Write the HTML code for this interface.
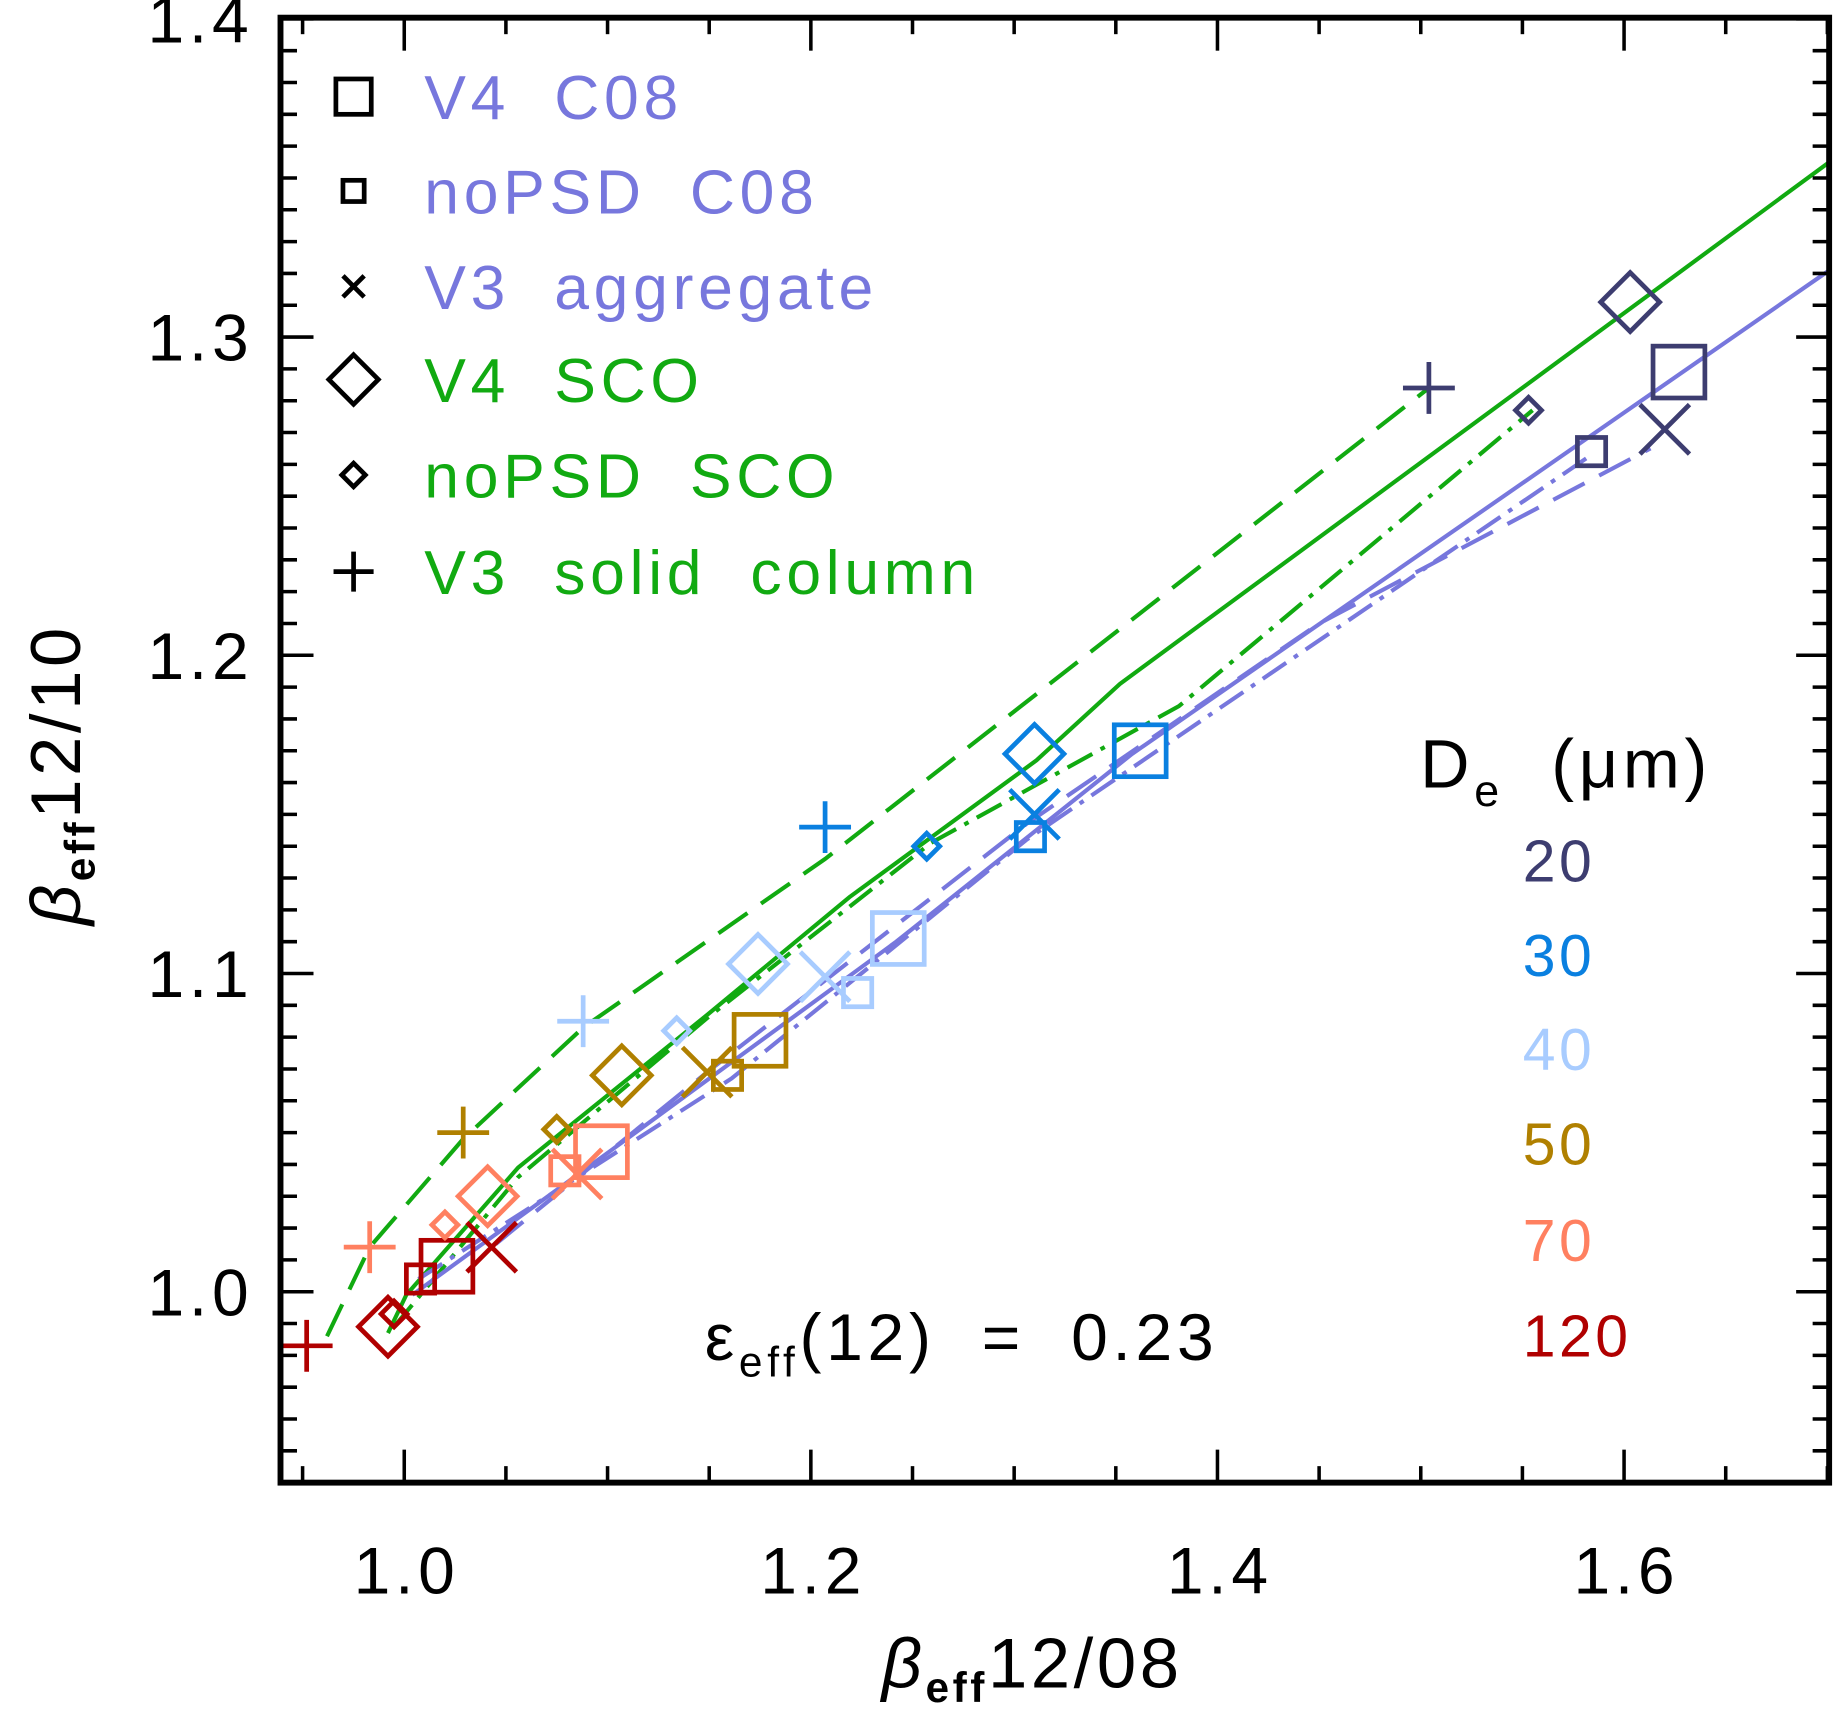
<!DOCTYPE html>
<html><head><meta charset="utf-8"><style>
html,body{margin:0;padding:0;background:#fff;}
svg{display:block;font-family:"Liberation Sans","DejaVu Sans",sans-serif;}
</style></head><body>
<svg id="chart" width="1848" height="1720" viewBox="0 0 1568 1459.4" xmlns="http://www.w3.org/2000/svg">
<g id="lines"></g><g id="marks"></g><g id="axes"></g><g id="legend"></g>
</svg>
<script>
const sizeLabels = ["20","30","40","50","70","120"];
const sizeColors = ["#3d3d70","#0a80e0","#a8ccff","#b08000","#ff8060","#b00000"];
const v4c08X = [1.627,1.362,1.243,1.175,1.097,1.021];
const v4c08Y = [1.289,1.170,1.111,1.079,1.044,1.008];
const nopsdc08X = [1.584,1.308,1.223,1.159,1.079,1.008];
const nopsdc08Y = [1.264,1.143,1.094,1.068,1.038,1.004];
const v3aggX = [1.620,1.310,1.207,1.149,1.085,1.043];
const v3aggY = [1.271,1.150,1.099,1.069,1.037,1.014];
const v4scoX = [1.603,1.310,1.174,1.107,1.041,0.992];
const v4scoY = [1.311,1.169,1.103,1.068,1.030,0.989];
const nopsdscoX = [1.553,1.257,1.134,1.075,1.020,0.995];
const nopsdscoY = [1.277,1.140,1.082,1.051,1.021,0.993];
const v3colX = [1.504,1.207,1.088,1.029,0.983,0.952];
const v3colY = [1.284,1.146,1.085,1.050,1.014,0.983];
const greenDashX = [0.962,0.983,1.029,1.088,1.207,1.504];
const greenDashY = [0.986,1.014,1.048,1.083,1.136,1.284];
const greenSolidX = [0.992,1.001,1.056,1.149,1.219,1.311,1.352,1.701];
const greenSolidY = [0.987,0.999,1.039,1.087,1.124,1.167,1.191,1.355];
const greenDotX = [0.995,1.056,1.149,1.259,1.381,1.555];
const greenDotY = [0.989,1.036,1.086,1.141,1.184,1.277];
const purpSolidX = [1.004,1.103,1.242,1.358,1.701];
const purpSolidY = [0.999,1.045,1.110,1.169,1.321];
const purpDashX = [1.045,1.149,1.306,1.450,1.613];
const purpDashY = [1.015,1.069,1.147,1.210,1.265];
const purpDotX = [1.007,1.161,1.306,1.584];
const purpDotY = [1.004,1.067,1.142,1.263];
const xTicks = [1.0,1.2,1.4,1.6];
const xTickLabels = ["1.0","1.2","1.4","1.6"];
const yTicks = [1.0,1.1,1.2,1.3,1.4];
const yTickLabels = ["1.0","1.1","1.2","1.3","1.4"];

const L=238,R=1552,T=15,B=1258;
const sx = v => 343 + (v-1.0)*1725;
const sy = v => 1096 - (v-1.0)*2700;
const NS="http://www.w3.org/2000/svg";
function mk(tag, attrs, parent){const e=document.createElementNS(NS,tag);for(const k in attrs)e.setAttribute(k,attrs[k]);parent.appendChild(e);return e;}
const gl=document.getElementById('lines'), gm=document.getElementById('marks'), ga=document.getElementById('axes'), gg=document.getElementById('legend');
const GREEN="#11aa11", PURP="#7777dd";

function line(xs,ys,col,dash,name){
  const p=mk('polyline',{points:xs.map((x,i)=>sx(x)+','+sy(ys[i])).join(' '),fill:'none',stroke:col,'stroke-width':3.5,'stroke-dasharray':dash},gl);
  
  
}
line(greenDashX,greenDashY,GREEN,"30 14","green-dashed-line");
line(greenSolidX,greenSolidY,GREEN,"none","green-solid-line");
line(greenDotX,greenDotY,GREEN,"24 8 4 8","green-dashdot-line");
line(purpSolidX,purpSolidY,PURP,"none","purple-solid-line");
line(purpDashX,purpDashY,PURP,"30 14","purple-dashed-line");
line(purpDotX,purpDotY,PURP,"24 8 4 8","purple-dashdot-line");

function marker(type,cx,cy,col,parent,sz){
  let e;
  if(type==='sq'){e=mk('rect',{x:cx-sz/2,y:cy-sz/2,width:sz,height:sz,fill:'none',stroke:col,'stroke-width':4},parent);}
  else if(type==='di'){e=mk('polygon',{points:`${cx},${cy-sz/2} ${cx+sz/2},${cy} ${cx},${cy+sz/2} ${cx-sz/2},${cy}`,fill:'none',stroke:col,'stroke-width':4},parent);}
  else if(type==='x'){const h=sz/2;e=mk('path',{d:`M${cx-h},${cy-h}L${cx+h},${cy+h}M${cx-h},${cy+h}L${cx+h},${cy-h}`,stroke:col,'stroke-width':4,fill:'none'},parent);}
  else {const h=sz/2;e=mk('path',{d:`M${cx-h},${cy}L${cx+h},${cy}M${cx},${cy-h}L${cx},${cy+h}`,stroke:col,'stroke-width':4,fill:'none'},parent);}
  return e;
}
const series=[[v4c08X,v4c08Y,'sq',44,'v4-c08'],[nopsdc08X,nopsdc08Y,'sq',24,'nopsd-c08'],[v3aggX,v3aggY,'x',42,'v3-aggregate'],
 [v4scoX,v4scoY,'di',50,'v4-sco'],[nopsdscoX,nopsdscoY,'di',22,'nopsd-sco'],[v3colX,v3colY,'p',44,'v3-solid-column']];
series.forEach(s=>{s[0].forEach((x,i)=>{
  const e=marker(s[2],sx(x),sy(s[1][i]),sizeColors[i],gm,s[3]);
  
  
});});

const box=mk('rect',{x:L,y:T,width:R-L,height:B-T,fill:'none',stroke:'#000','stroke-width':5},ga);


for(let v=0.95;v<=1.701;v+=0.05){const X=sx(v);const maj=Math.abs(v*10-Math.round(v*10))<0.01&&Math.round(v*10)%2===0;const len=maj?28:14;
 mk('line',{x1:X,y1:B,x2:X,y2:B-len,stroke:'#000','stroke-width':3},ga);mk('line',{x1:X,y1:T,x2:X,y2:T+len,stroke:'#000','stroke-width':3},ga);}
for(let k=95;k<=140;k++){const v=k/100;const Y=sy(v);const maj=k%10===0;const len=maj?28:14;
 mk('line',{x1:L,y1:Y,x2:L+len,y2:Y,stroke:'#000','stroke-width':3},ga);mk('line',{x1:R,y1:Y,x2:R-len,y2:Y,stroke:'#000','stroke-width':3},ga);}
xTicks.forEach((v,i)=>{const t=mk('text',{x:sx(v)+2,y:1352,'font-size':56,'letter-spacing':4,'text-anchor':'middle',fill:'#000'},ga);t.textContent=xTickLabels[i];
 
 });
yTicks.forEach((v,i)=>{const t=mk('text',{x:215,y:sy(v)+20,'font-size':56,'letter-spacing':4,'text-anchor':'end',fill:'#000'},ga);t.textContent=yTickLabels[i];
 
 });

const legItems=[['sq',30,'V4  C08',PURP,82],['sq',18,'noPSD  C08',PURP,162],['x',18,'V3  aggregate',PURP,243],['di',42,'V4  SCO',GREEN,322],['di',20,'noPSD  SCO',GREEN,403],['p',34,'V3  solid  column',GREEN,485]];
legItems.forEach(it=>{const m=marker(it[0],300,it[4],'#000',gg,it[1]);
 
 
 const t=mk('text',{x:360,y:it[4]+19,'font-size':53,'letter-spacing':4,fill:it[3]},gg);t.textContent=it[2].replace(/  /g,'\u00a0 ');
 
 });
const de=mk('text',{x:1205,y:668,'font-size':58,'letter-spacing':4,fill:'#000'},gg);
de.innerHTML='D<tspan font-size="38" dy="16">e</tspan><tspan dy="-16"> \u00a0(\u03bcm)</tspan>';


const ly=[730,810,890,970,1052,1133];
sizeLabels.forEach((s,i)=>{const t=mk('text',{x:1292,y:ly[i]+18,'font-size':50,'letter-spacing':3,fill:sizeColors[i]},gg);t.textContent=s;
 
 });
const eps=mk('text',{x:598,y:1154,'font-size':56,'letter-spacing':4,fill:'#000'},gg);
eps.innerHTML='\u03b5<tspan font-size="36" dy="14">eff</tspan><tspan dy="-14">(12) \u00a0= \u00a00.23</tspan>';


const xl=mk('text',{x:748,y:1432,'font-size':60,'letter-spacing':3,fill:'#000'},ga);
xl.innerHTML='<tspan font-style="italic">\u03b2</tspan><tspan font-size="36" font-weight="bold" dy="12">eff</tspan><tspan dy="-12">12/08</tspan>';


const yl=mk('text',{x:0,y:0,'font-size':60,'letter-spacing':3,fill:'#000',transform:'translate(68,785) rotate(-90)'},ga);
yl.innerHTML='<tspan font-style="italic">\u03b2</tspan><tspan font-size="36" font-weight="bold" dy="12">eff</tspan><tspan dy="-12">12/10</tspan>';


</script>
</body></html>
